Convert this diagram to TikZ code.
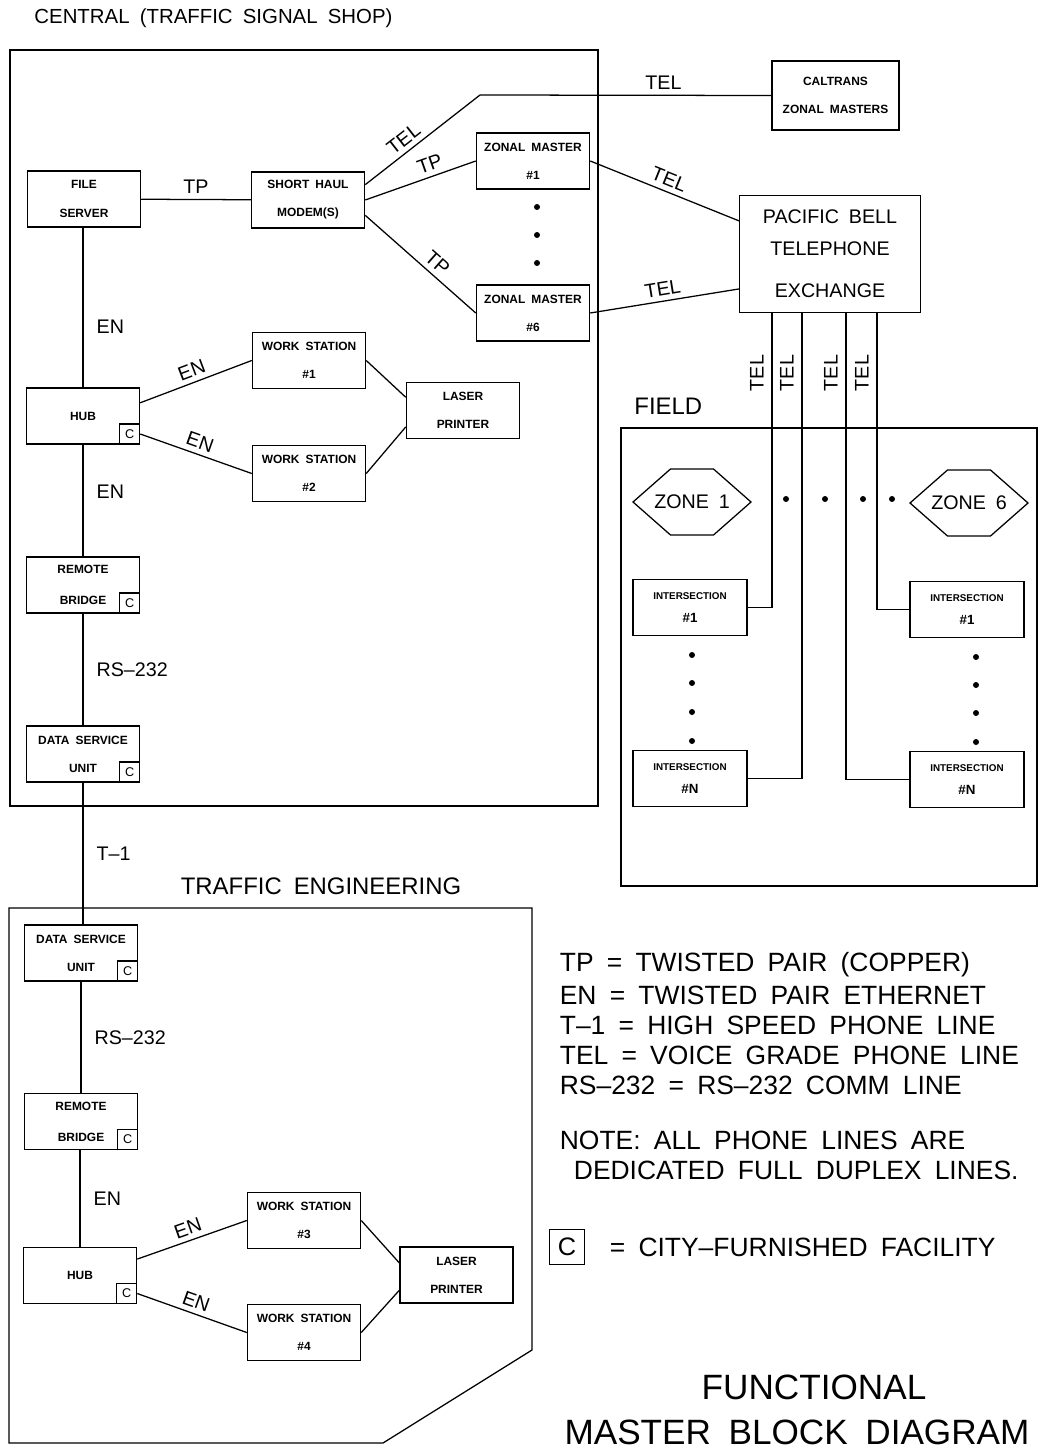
\documentclass[tikz,border=0pt]{standalone}
\usepackage{fontspec}
\setmainfont{Liberation Sans}[WordSpace=1.8]
\usetikzlibrary{positioning,calc}

\begin{document}
\begin{tikzpicture}[x=0.025cm,y=-0.025cm,line width=0.9pt,
    box/.style={draw,align=center,minimum width=2.83cm,minimum height=1.4cm,inner sep=1pt,font=\bfseries\fontsize{8.5}{20}\selectfont},
    xbox/.style={draw,align=center,minimum width=2.85cm,minimum height=1.4cm,inner sep=1pt,font=\bfseries\fontsize{9.5}{16}\selectfont},
    cbox/.style={draw,minimum size=0.5cm,inner sep=0pt,font=\fontsize{9}{9}\selectfont},
    zone/.style={inner sep=1pt,font=\fontsize{14}{16}\selectfont},
    lbl/.style={font=\fontsize{14}{16}\selectfont,inner sep=1.5pt,outer sep=2.5pt},
    head/.style={font=\fontsize{17}{20}\selectfont,inner sep=2pt},
    legend/.style={align=left,inner sep=3pt,font=\fontsize{18.8}{21.5}\selectfont},
    dot/.style={circle,fill,inner sep=0pt,minimum size=0.15cm}]
  \useasboundingbox (0,0) rectangle (1041,1451);

  % frames
  \draw (10,50) rectangle (598,806);
  \draw (621,428) rectangle (1037,886);
  \draw (9,908) -- (532,908) -- (532,1350) -- (383,1443) -- (9,1443) -- cycle;
  \node[head,anchor=west,font=\fontsize{14.5}{16}\selectfont] (central) at (31,18) {CENTRAL (TRAFFIC SIGNAL SHOP)};
  \node[head] (traffic) at (321,886) {TRAFFIC ENGINEERING};
  \node[head,anchor=west] (field) at (631,406) {FIELD};

  % central
  \node[box] (fs) at (84,199) {FILE\\SERVER};
  \node[box] (modem) at (308,200) {SHORT HAUL\\MODEM(S)};
  \node[box] (zm1) at (533,161) {ZONAL MASTER\\\#1};
  \node[box] (zm6) at (533,313) {ZONAL MASTER\\\#6};
  \foreach \y [count=\k] in {207,235,263} \node[dot] (zmdot\k) at (537,\y) {};
  \node[box,minimum width=3.18cm,minimum height=1.72cm] (caltrans) at (835.5,95.5) {CALTRANS\\ZONAL MASTERS};
  \node[draw,align=center,minimum width=4.52cm,minimum height=2.92cm,font=\fontsize{14}{22.7}\selectfont] (pb) at (830,254)
      {PACIFIC BELL\\TELEPHONE\\[7pt]EXCHANGE};
  \node[box] (ws1) at (309,360.5) {WORK STATION\\\#1};
  \node[box] (ws2) at (309,473.5) {WORK STATION\\\#2};
  \node[box] (lp) at (463,410.5) {LASER\\PRINTER};
  \node[box] (hub) at (83,416) {HUB};
  \node[cbox,anchor=south east] (hubc) at (hub.south east) {C};
  \node[box] (rb) at (83,585) {REMOTE\\[2pt]BRIDGE};
  \node[cbox,anchor=south east] (rbc) at (rb.south east) {C};
  \node[box] (dsu) at (83,754) {DATA SERVICE\\UNIT};
  \node[cbox,anchor=south east] (dsuc) at (dsu.south east) {C};

  \coordinate (bend) at (480,95);
  \draw (fs) -- node[lbl,above] (tp0) {TP} (modem);
  \draw (modem.15) -- node[lbl,sloped,above,pos=0.4] (tel0) {TEL} (bend)
      -- node[lbl,above,pos=0.63] (tel1) {TEL} (caltrans.west);
  \draw (modem.east) -- node[lbl,sloped,above,pos=0.62] (tp1) {TP} (zm1.west);
  \draw (modem.-15) -- node[lbl,sloped,above,pos=0.58] (tp2) {TP} (zm6.west);
  \draw (zm1.east) -- node[lbl,sloped,above] (tel2) {TEL} (pb.160);
  \draw (zm6.east) -- node[lbl,sloped,above] (tel3) {TEL} (pb.201);
  \draw (fs.south -| hub.north) -- node[lbl,right=0.2cm,pos=0.62] (en0) {EN} (hub);
  \draw (hub.13) -- node[lbl,sloped,above] (en1) {EN} (ws1.west);
  \draw (hubc.east) -- node[lbl,sloped,above] (en2) {EN} (ws2.west);
  \draw (ws1.east) -- (lp.167);
  \draw (ws2.east) -- (lp.196);
  \draw (hub) -- node[lbl,right=0.2cm,pos=0.42] (en3) {EN} (rb);
  \draw (rb) -- node[lbl,right=0.2cm] (rs0) {RS--232} (dsu);

  % traffic engineering
  \node[box] (dsu2) at (81,953) {DATA SERVICE\\UNIT};
  \node[cbox,anchor=south east] (dsu2c) at (dsu2.south east) {C};
  \node[box] (rb2) at (81,1121.5) {REMOTE\\[2pt]BRIDGE};
  \node[cbox,anchor=south east] (rb2c) at (rb2.south east) {C};
  \node[box] (hub2) at (80,1275.5) {HUB};
  \node[cbox,anchor=south east] (hub2c) at (hub2.south east) {C};
  \node[box] (ws3) at (304,1220.5) {WORK STATION\\\#3};
  \node[box] (ws4) at (304,1332.5) {WORK STATION\\\#4};
  \node[box] (lp2) at (456.5,1275) {LASER\\PRINTER};

  \draw (dsu.south) -- node[lbl,right=0.2cm] (t1) {T--1} (dsu.south |- dsu2.north);
  \draw (dsu2) -- node[lbl,right=0.2cm] (rs1) {RS--232} (rb2);
  \draw (rb2.south -| hub2.north) -- node[lbl,right=0.2cm] (en4) {EN} (hub2);
  \draw (hub2.16) -- node[lbl,sloped,above] (en5) {EN} (ws3.west);
  \draw (hub2c.east) -- node[lbl,sloped,above] (en6) {EN} (ws4.west);
  \draw (ws3.east) -- (lp2.168);
  \draw (ws4.east) -- (lp2.195);

  % field
  \node[zone] (z1) at (692,502) {ZONE 1};
  \node[zone] (z6) at (969,503) {ZONE 6};
  \foreach \z in {z1,z6}
    \draw (\z.center) ++(-59,0) -- ++(37.5,-33) -- ++(43,0) -- ++(37.5,33) -- ++(-37.5,33) -- ++(-43,0) -- cycle;
  \foreach \x [count=\k] in {786,825,863,892} \node[dot] (fdot\k) at (\x,499) {};
  \node[xbox] (iL1) at (690,607.5) {{\fontsize{7}{7}\selectfont INTERSECTION}\\\#1};
  \node[xbox] (iLN) at (690,778.5) {{\fontsize{7}{7}\selectfont INTERSECTION}\\\#N};
  \node[xbox] (iR1) at (967,609.5) {{\fontsize{7}{7}\selectfont INTERSECTION}\\\#1};
  \node[xbox] (iRN) at (967,779.5) {{\fontsize{7}{7}\selectfont INTERSECTION}\\\#N};
  \foreach \y [count=\k] in {655,683,712,741} \node[dot] (ldot\k) at (692,\y) {};
  \foreach \y [count=\k] in {657,685,713,742} \node[dot] (rdot\k) at (976,\y) {};

  \coordinate (p1) at ($(pb.south west)+(33,0)$);
  \coordinate (p2) at ($(pb.south west)+(63,0)$);
  \coordinate (p3) at ($(pb.south west)+(107,0)$);
  \coordinate (p4) at ($(pb.south west)+(138,0)$);
  \draw (p1) |- (iL1.east);
  \draw (p2) |- (iLN.east);
  \draw (p3) |- (iRN.west);
  \draw (p4) |- (iR1.west);
  \foreach \p in {1,...,4} \node[lbl,rotate=90] (ptel\p) at ($(p\p)+(-15,60)$) {TEL};

  % legend
  \node[legend,anchor=north west] (key) at (555,947)
      {TP = TWISTED PAIR (COPPER)\\[2pt]EN = TWISTED PAIR ETHERNET\\T--1 = HIGH SPEED PHONE LINE\\TEL = VOICE GRADE PHONE LINE\\RS--232 = RS--232 COMM LINE};
  \node[legend,anchor=north west] (note) at (555,1126)
      {NOTE: ALL PHONE LINES ARE\\\hspace{10pt}DEDICATED FULL DUPLEX LINES.};
  \node[cbox,minimum size=0.875cm,font=\fontsize{18}{18}\selectfont] (ckey) at (567,1247) {C};
  \node[legend,anchor=west] (ckeytxt) at (605,1247) {= CITY--FURNISHED FACILITY};
  \node[inner sep=1pt,font=\fontsize{25}{30}\selectfont] (title1) at (814,1387) {FUNCTIONAL};
  \node[inner sep=1pt,font=\fontsize{25}{30}\selectfont] (title2) at (797,1432) {MASTER BLOCK DIAGRAM};
\end{tikzpicture}
\end{document}
